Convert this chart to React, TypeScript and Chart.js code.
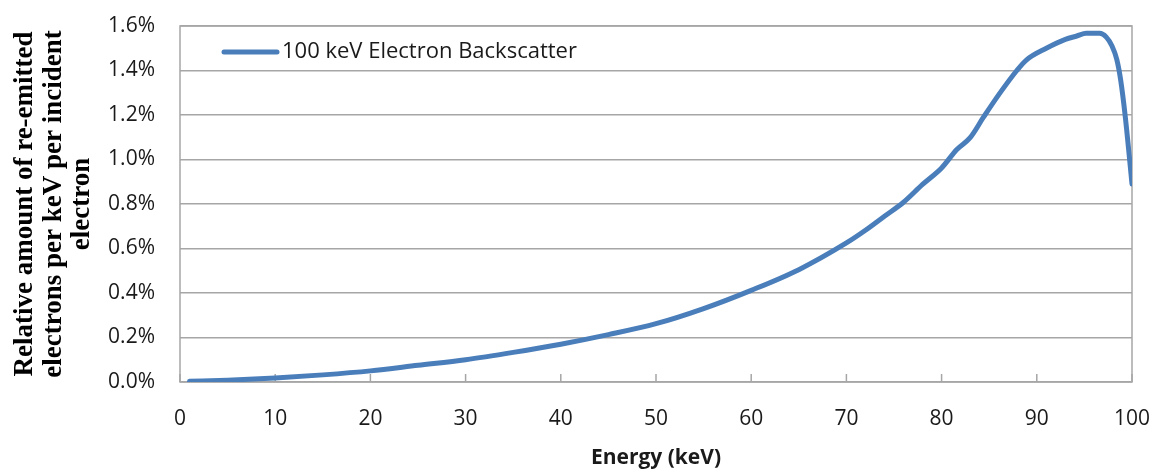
import React, { useEffect, useRef } from "react";
import { Chart, registerables } from "chart.js";

Chart.register(...registerables);

// Energy (keV)
const energies: number[] = [
  1, 5, 10, 15, 20, 25, 30, 35, 40, 45, 50, 55, 60, 65, 70, 72, 74, 76, 78, 80,
  81.6, 83, 84.4, 86.1, 87.9, 88.9, 91, 93, 94.2, 95.2, 96.6, 97.3, 97.9, 98.4,
  98.8, 99.3, 100,
];
// Relative amount (%) per keV per incident electron
const backscatter: number[] = [
  0.003, 0.008, 0.018, 0.032, 0.05, 0.075, 0.1, 0.133, 0.17, 0.213, 0.262, 0.33,
  0.412, 0.505, 0.625, 0.682, 0.745, 0.808, 0.888, 0.962, 1.045, 1.098, 1.19,
  1.297, 1.4, 1.447, 1.5, 1.54, 1.555, 1.567, 1.567, 1.55, 1.51, 1.45, 1.36,
  1.19, 0.89,
];
const seriesLabel = "100 keV Electron Backscatter";
const xTitle = "Energy (keV)";
const yTitle: string[] = [
  "Relative amount of re-emitted",
  "electrons per keV per incident",
  "electron",
];

const LINE_COLOR = "#4a7ebb";
const GRID_COLOR = "#a6a6a6";
const TEXT_COLOR = "#1a1a1a";

const framePlugin = {
  id: "frame",
  beforeDatasetsDraw(chart: any) {
    const { ctx, chartArea } = chart;
    const xs = chart.scales.x;
    ctx.save();
    ctx.strokeStyle = GRID_COLOR;
    ctx.lineWidth = 1.5;
    ctx.strokeRect(chartArea.left, chartArea.top, chartArea.right - chartArea.left, chartArea.bottom - chartArea.top);
    ctx.beginPath();
    xs.ticks.forEach((t: any) => {
      const px = xs.getPixelForValue(t.value);
      ctx.moveTo(px, chartArea.bottom);
      ctx.lineTo(px, chartArea.bottom - 8);
    });
    ctx.stroke();
    ctx.restore();
  },
  afterDraw(chart: any) {
    const { ctx, chartArea } = chart;
    const ds = chart.data.datasets[0];
    const y = chartArea.top + 26;
    const x0 = chartArea.left + 44;
    ctx.save();
    ctx.strokeStyle = ds.borderColor;
    ctx.lineWidth = 5;
    ctx.lineCap = "round";
    ctx.beginPath();
    ctx.moveTo(x0, y);
    ctx.lineTo(x0 + 53, y);
    ctx.stroke();
    ctx.fillStyle = TEXT_COLOR;
    ctx.font = "22px 'Open Sans'";
    ctx.textBaseline = "middle";
    ctx.textAlign = "left";
    ctx.fillText(ds.label, x0 + 58, y);
    ctx.restore();
  },
};

const zeroPad = (scale: any) => {
  scale.paddingTop = 0;
  scale.paddingBottom = 0;
  scale.paddingLeft = 0;
  scale.paddingRight = 0;
};

export default function App() {
  const ref = useRef<HTMLCanvasElement>(null);
  useEffect(() => {
    if (!ref.current) return;
    const chart = new Chart(ref.current, {
      type: "line",
      data: {
        datasets: [
          {
            label: seriesLabel,
            data: energies.map((e, i) => ({ x: e, y: backscatter[i] })),
            borderColor: LINE_COLOR,
            backgroundColor: LINE_COLOR,
            borderWidth: 5,
            pointRadius: 0,
            cubicInterpolationMode: "monotone",
            borderCapStyle: "round",
            borderJoinStyle: "round",
          },
        ],
      },
      options: {
        animation: false,
        responsive: false,
        devicePixelRatio: 1,
        layout: { padding: { top: 26, right: 23, bottom: 0, left: 0 } },
        plugins: { legend: { display: false }, tooltip: { enabled: false } },
        scales: {
          x: {
            type: "linear",
            min: 0,
            max: 100,
            ticks: {
              stepSize: 10,
              padding: 24,
              color: TEXT_COLOR,
              font: { family: "'Open Sans'", size: 21 },
              maxRotation: 0,
            },
            grid: { display: false, drawTicks: false },
            border: { display: false },
            title: {
              display: true,
              text: xTitle,
              color: TEXT_COLOR,
              font: { family: "'Open Sans'", size: 21, weight: "bold", lineHeight: 1.0 },
              padding: { top: 0, bottom: 0 },
            },
            afterFit(scale: any) {
              scale.height = 87;
              zeroPad(scale);
            },
          },
          y: {
            min: 0,
            max: 1.6,
            ticks: {
              stepSize: 0.2,
              padding: 25,
              color: TEXT_COLOR,
              font: { family: "'Open Sans'", size: 21 },
              callback: (v: any) => Number(v).toFixed(1) + "%",
            },
            grid: { color: GRID_COLOR, lineWidth: 1.5, drawTicks: false },
            border: { display: false },
            title: {
              display: true,
              text: yTitle,
              color: "#000",
              font: { family: "'Liberation Serif'", size: 27, weight: "bold", lineHeight: 1.055 },
              padding: { top: 11, bottom: 0 },
            },
            afterFit(scale: any) {
              scale.width = 180;
              zeroPad(scale);
            },
          },
        },
      },
      plugins: [framePlugin],
    });
    return () => chart.destroy();
  }, []);
  return (
    <div style={{ position: "absolute", left: 0, top: 0, width: 1155, height: 469, background: "#fff" }}>
      <canvas ref={ref} width={1155} height={469} />
    </div>
  );
}
